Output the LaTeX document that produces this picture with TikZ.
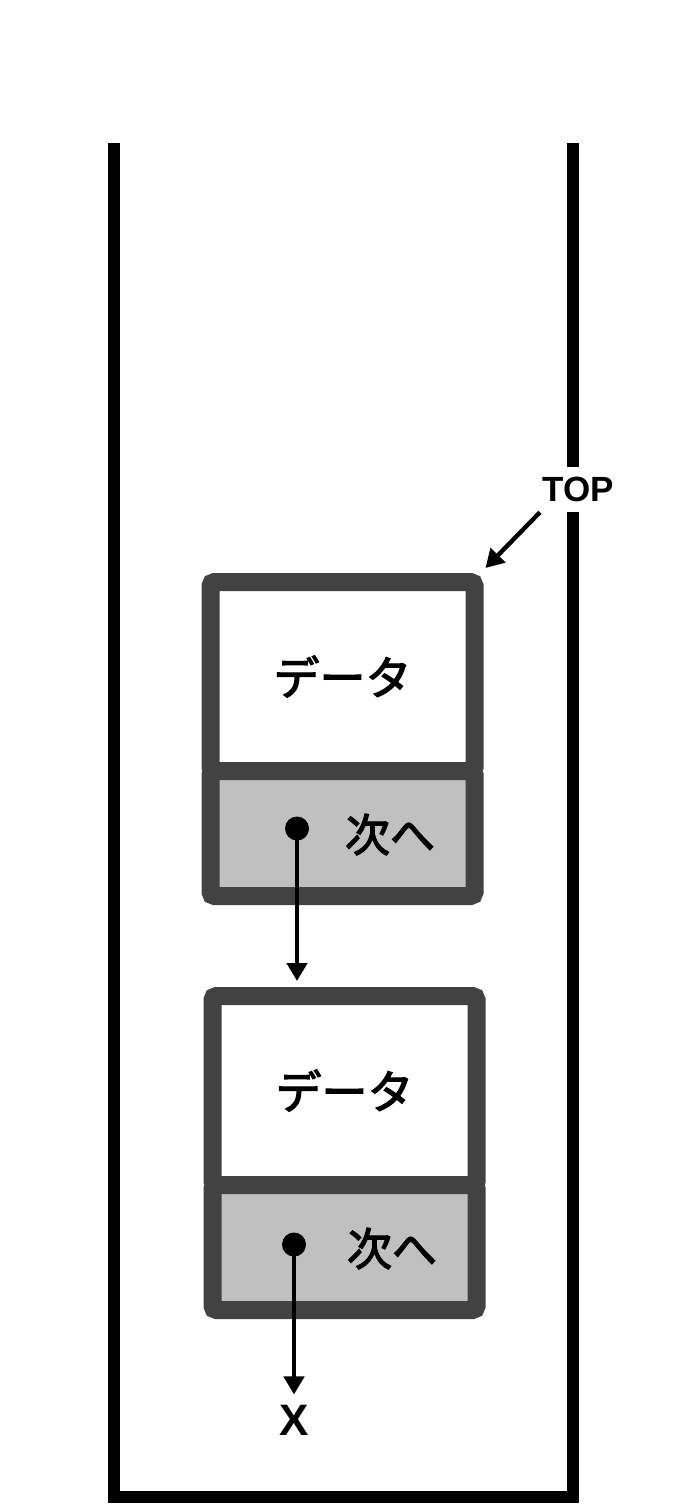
\documentclass[tikz,border=0pt]{standalone}
\usepackage{fontspec}
\setmainfont{Liberation Sans}
\newfontfamily\jp{Noto Sans CJK JP}[FakeBold=2.6]
\usetikzlibrary{positioning,calc,arrows.meta}
\definecolor{cellborder}{RGB}{66,66,66}
\definecolor{cellfill}{RGB}{192,192,192}
\tikzset{
  cell/.style={draw=cellborder, line width=9pt, rounded corners=2pt,
    minimum width=132pt, inner sep=0pt, outer sep=0pt},
  datacell/.style={cell, fill=white, minimum height=94.5pt,
    font=\jp\fontsize{23}{23}\selectfont},
  nextcell/.style={cell, fill=cellfill, minimum height=62.5pt},
  nextlabel/.style={inner sep=0pt, font=\jp\fontsize{22.5}{22.5}\selectfont},
  ptrdot/.style={circle, fill=black, minimum size=12pt, inner sep=0pt},
  link/.style={line width=2.2pt, -{Triangle[length=9pt,width=10pt]}},
  wall/.style={line width=6pt, miter limit=10}
}
\begin{document}
\begin{tikzpicture}[x=0.5pt, y=-0.5pt]
\useasboundingbox (0,0) rectangle (688,1511);
% container
\coordinate (wtl) at (114,143);
\coordinate (wtr) at (573,143);
\draw[wall] (wtl) -- (wtl |- 0,1496.5) -- (wtr |- 0,1496.5) -- (wtr);
\node[fill=white, inner xsep=1pt, inner ysep=5pt, font=\bfseries\fontsize{17.5}{17.5}\selectfont] (top) at (578,489.5) {TOP};

% first cell
\node[datacell] (data1) at (342.5,676.5) {データ};
\node[nextcell, below=0pt of data1] (next1) {};
\node[nextlabel] (lbl1) at ([shift={(47.5,1)}]next1.center) {次へ};
\node[ptrdot] (p1) at ([shift={(-45.5,-5)}]next1.center) {};

% second cell
\node[datacell] (data2) at (344.5,1090.5) {データ};
\node[nextcell, below=0pt of data2] (next2) {};
\node[nextlabel] (lbl2) at ([shift={(47.5,1)}]next2.center) {次へ};
\node[ptrdot] (p2) at ([shift={(-50.5,-3)}]next2.center) {};

\node[inner sep=0pt, font=\bfseries\fontsize{22}{22}\selectfont] (nil) at (294,1420) {X};

\coordinate (aim) at ([shift={(11,-14)}]data1.north east);
\draw[link] (top.south west) -- (aim);
\draw[link, shorten >=7.5pt] (p1.center) -- (p1 |- data2.north);
\draw[link, shorten >=5pt] (p2.center) -- (nil.north);
\end{tikzpicture}
\end{document}
